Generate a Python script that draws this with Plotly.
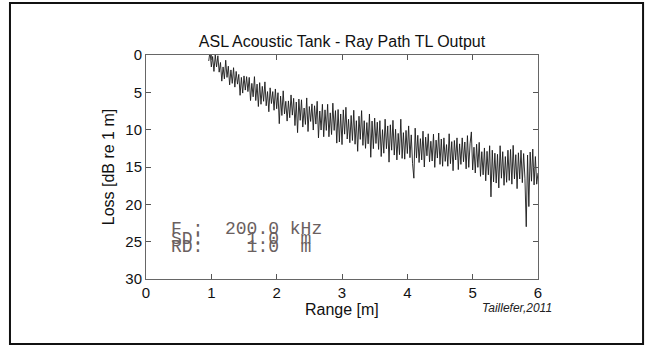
import plotly.graph_objects as go

# Range sampling (m): start and step of the trace
range_start = 0.96
range_step = 0.02

# Transmission loss values (dB re 1 m)
loss = [
    0.8, -0.5, 1.6, 0.2, 2.2, 0.0, 1.6, 0.1, 2.3, 1.0,
    3.5, 1.6, 3.2, 0.7, 3.0, 1.5, 4.0, 2.0, 3.8, 1.7,
    4.3, 2.2, 3.9, 2.6, 5.4, 3.0, 5.1, 2.8, 4.7, 2.9,
    4.9, 3.0, 6.1, 3.8, 5.6, 2.9, 6.1, 3.9, 6.9, 3.7,
    6.6, 4.2, 6.2, 3.6, 6.8, 4.9, 7.6, 4.4, 6.5, 4.9,
    7.4, 4.55, 7.2, 5.05, 9.2, 5.5, 8.1, 4.8, 7.9, 6.2,
    8.85, 6.15, 8.4, 5.35, 8.05, 5.8, 9.45, 6.3, 10.4, 5.9,
    8.75, 6.0, 9.65, 7.1, 9.3, 5.75, 10.25, 6.9, 8.9, 6.55,
    10.05, 6.8, 9.25, 6.2, 11.1, 7.5, 10.05, 6.6, 10.95, 7.35,
    10.1, 6.6, 10.95, 7.75, 10.65, 6.45, 10.1, 7.45, 11.8, 7.3,
    11.65, 7.9, 12.0, 7.35, 10.6, 7.0, 11.25, 8.6, 11.75, 8.1,
    11.45, 7.4, 11.95, 8.8, 12.9, 8.2, 11.3, 7.45, 12.1, 8.8,
    12.5, 9.05, 11.9, 7.9, 13.7, 8.85, 12.55, 8.45, 11.85, 9.0,
    12.65, 8.8, 13.6, 10.0, 13.15, 8.6, 12.55, 9.5, 14.35, 9.35,
    12.75, 8.75, 13.4, 9.95, 14.05, 10.5, 13.35, 8.6, 13.85, 10.4,
    13.95, 10.1, 13.2, 9.5, 13.75, 10.7, 14.55, 16.5, 9.8, 13.8,
    10.75, 14.4, 11.2, 14.05, 10.2, 15.0, 11.0, 13.5, 10.55, 14.3,
    11.55, 14.2, 10.6, 15.05, 11.4, 13.8, 10.45, 14.65, 11.25, 14.9,
    11.1, 14.25, 12.0, 14.9, 10.55, 14.55, 11.6, 15.5, 11.45, 14.05,
    11.1, 15.35, 11.9, 14.65, 11.1, 14.3, 11.65, 15.25, 10.8, 15.05,
    11.9, 10.3, 15.4, 12.35, 15.8, 11.95, 15.05, 11.7, 16.25, 12.95,
    16.05, 12.45, 16.85, 12.9, 16.05, 12.15, 19.0, 12.75, 17.0, 13.15,
    17.15, 13.3, 17.8, 12.15, 16.5, 12.95, 17.45, 13.6, 17.05, 12.75,
    16.8, 12.65, 17.3, 12.1, 16.6, 13.35, 17.9, 13.1, 16.6, 12.75,
    17.1, 13.2, 16.5, 23.0, 13.4, 20.3, 13.0, 16.9, 12.6, 17.4,
    13.6, 17.3, 15.8,
]
ranges = [round(range_start + i * range_step, 4) for i in range(len(loss))]

x_ticks = [0, 1, 2, 3, 4, 5, 6]
y_ticks = [0, 5, 10, 15, 20, 25, 30]

title_text = "ASL Acoustic Tank - Ray Path TL Output"
x_label = "Range [m]"
y_label = "Loss [dB re 1 m]"
info_lines = ["F :  200.0 kHz", "SD:    1.0  m", "RD:    1.0  m"]
info_y = [23.3, 24.6, 25.7]
credit = "Taillefer,2011"

SANS = "Liberation Sans, Arial"

fig = go.Figure()
fig.add_trace(go.Scatter(
    x=ranges, y=loss, mode="lines",
    line=dict(color="#1a1a1a", width=0.9),
    showlegend=False, hoverinfo="skip",
))

axis_common = dict(
    showgrid=False, zeroline=False, showline=True, linecolor="#666666",
    linewidth=1, mirror="ticks", ticks="inside", ticklen=5,
    tickcolor="#555555", tickfont=dict(family=SANS, size=15, color="#111111"),
)

fig.update_xaxes(range=[0, 6], tickvals=x_ticks, ticktext=[str(v) for v in x_ticks],
                 **axis_common)
fig.update_yaxes(range=[30, 0], tickvals=y_ticks, ticktext=[str(v) for v in y_ticks],
                 title=dict(text=y_label, font=dict(family=SANS, size=16, color="#111111"), standoff=6),
                 **axis_common)

# x-axis label placed as text below the tick labels
fig.add_annotation(x=0.5, y=-0.135, xref="paper", yref="paper", text=x_label,
                   showarrow=False, xanchor="center", yanchor="middle",
                   font=dict(family=SANS, size=16, color="#111111"))

for txt, yy in zip(info_lines, info_y):
    fig.add_annotation(x=0.35, y=yy, xref="x", yref="y", text=txt.replace(" ", "&nbsp;"),
                       showarrow=False, xanchor="left", yanchor="middle",
                       font=dict(family="Liberation Mono, Courier New, monospace", size=18, color="#6a6060"))

fig.add_annotation(x=1.041, y=-0.088, xref="paper", yref="paper", text="<i>" + credit + "</i>",
                   showarrow=False, xanchor="right", yanchor="top",
                   font=dict(family=SANS, size=12, color="#222222"))

# outer figure frame
fig.add_shape(type="rect", xref="paper", yref="paper",
              x0=-0.347, x1=1.268, y0=-0.290, y1=1.232,
              line=dict(color="#111111", width=2), fillcolor="rgba(0,0,0,0)", layer="below")

fig.update_layout(
    width=649, height=345,
    margin=dict(l=146, r=111, t=55, b=66),
    paper_bgcolor="white", plot_bgcolor="white",
    title=dict(text=title_text, x=0.5, xref="paper", y=1, yref="paper", yanchor="bottom",
               pad=dict(b=8), font=dict(family=SANS, size=16, color="#111111")),
)

fig.write_html("out.html", config={"displayModeBar": False},
               post_script="document.body.style.margin='0px';")
